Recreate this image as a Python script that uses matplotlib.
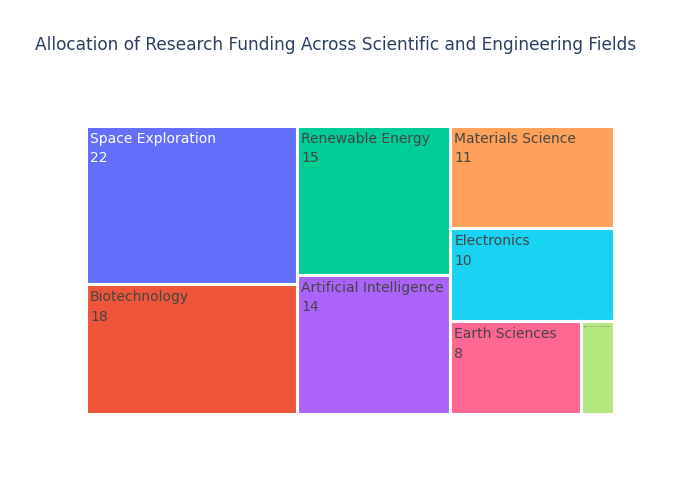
import numpy as np
import matplotlib.pyplot as plt
from matplotlib.patches import Rectangle

labels = ['Space Exploration', 'Biotechnology', 'Renewable Energy',
          'Artificial Intelligence', 'Materials Science', 'Electronics',
          'Earth Sciences', 'Mechanical Engineering']
values = [22, 18, 15, 14, 11, 10, 8, 2]
colors = ['#636efa', '#EF553B', '#00cc96', '#ab63fa', '#FFA15A',
          '#19d3f3', '#FF6692', '#B6E880']
text_colors = ['white', '#444444', '#444444', '#444444', '#444444',
               '#444444', '#444444', '#444444']


def worst(row, side):
    s = sum(row)
    return max(max(side * side * r / (s * s), s * s / (side * side * r)) for r in row)


def squarify(areas, x, y, w, h):
    rects = []
    areas = list(areas)
    while areas:
        side = min(w, h)
        row = [areas.pop(0)]
        while areas and worst(row + [areas[0]], side) <= worst(row, side):
            row.append(areas.pop(0))
        s = sum(row)
        if w >= h:
            cw = s / h
            yy = y
            for a in row:
                rects.append((x, yy, cw, a / cw))
                yy += a / cw
            x += cw
            w -= cw
        else:
            rh = s / w
            xx = x
            for a in row:
                rects.append((xx, y, a / rh, rh))
                xx += a / rh
            y += rh
            h -= rh
    return rects


# treemap area in pixels
x0, y0, W, H = 86.0, 126.0, 528.0, 288.0
total = sum(values)
areas = [v / total * W * H for v in values]
rects = squarify(areas, x0, y0, W, H)

fig = plt.figure(figsize=(7, 5), dpi=100)
ax = fig.add_axes([0, 0, 1, 1])
ax.set_xlim(0, 700)
ax.set_ylim(500, 0)
ax.axis('off')

for (rx, ry, rw, rh), lab, v, c, tc in zip(rects, labels, values, colors, text_colors):
    ax.add_patch(Rectangle((rx, ry), rw, rh, facecolor=c, edgecolor='white', linewidth=2.2))
    if v > 5:
        ax.text(rx + 4, ry + 6, f'{lab}\n{v}', color=tc, fontsize=10, va='top', ha='left',
                linespacing=1.5)
    else:
        ax.text(rx + 2.5, ry + 4.5, f'{lab}\n{v}', color='#666666', fontsize=1.6, va='top',
                ha='left')

ax.text(35, 45, 'Allocation of Research Funding Across Scientific and Engineering Fields',
        fontsize=12.25, color='#2a3f5f', va='center', ha='left')

fig.savefig('out.png', dpi=100)
